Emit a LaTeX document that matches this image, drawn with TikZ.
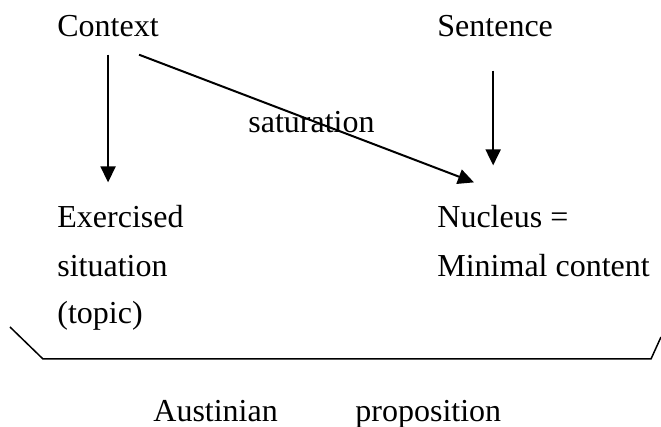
\documentclass[tikz,border=0pt]{standalone}
\usepackage{fontspec}
\setmainfont{Liberation Serif}
\usepackage{tikz}
\usetikzlibrary{arrows.meta, positioning, calc}

\begin{document}
\begin{tikzpicture}[
  x=0.5pt, y=-0.5pt,
  lbl/.style={inner sep=0pt, anchor=base west, font=\fontsize{16}{19}\selectfont},
  arr/.style={line width=1pt, -{Triangle[length=8pt, width=7.5pt]}},
  brk/.style={line width=0.75pt}
]
\useasboundingbox (0,0) rectangle (661,427);
\node[lbl] (ctx) at (57,37) {Context};
\node[lbl] (snt) at (437,37) {Sentence};
\node[lbl] (sat) at (248,133) {saturation};
\node[lbl] (exs) at (57,228) {Exercised};
\node[lbl] (sit) at (57,277) {situation};
\node[lbl] (top) at (57,324) {(topic)};
\node[lbl] (nuc) at (437,228) {Nucleus =};
\node[lbl] (min) at (437,277) {Minimal content};
\node[lbl] (aus) at (153,422) {Austinian};
\node[lbl] (prp) at (355,422) {proposition};
\draw[arr] ([yshift=-8.5pt]ctx.south) -- ([yshift=11.5pt]ctx.south |- exs.north);
\draw[arr] ($(ctx.south)+(15.5pt,-8.5pt)$) -- ($(nuc.north west)+(18.5pt,11.5pt)$);
\draw[arr] ([xshift=-1pt, yshift=-16.5pt]snt.south) -- ([xshift=-1pt, yshift=20pt]snt.south |- nuc.north);
\draw[brk] (10,327) -- (43,359) -- (651,359) -- (661,337);
\end{tikzpicture}
\end{document}
